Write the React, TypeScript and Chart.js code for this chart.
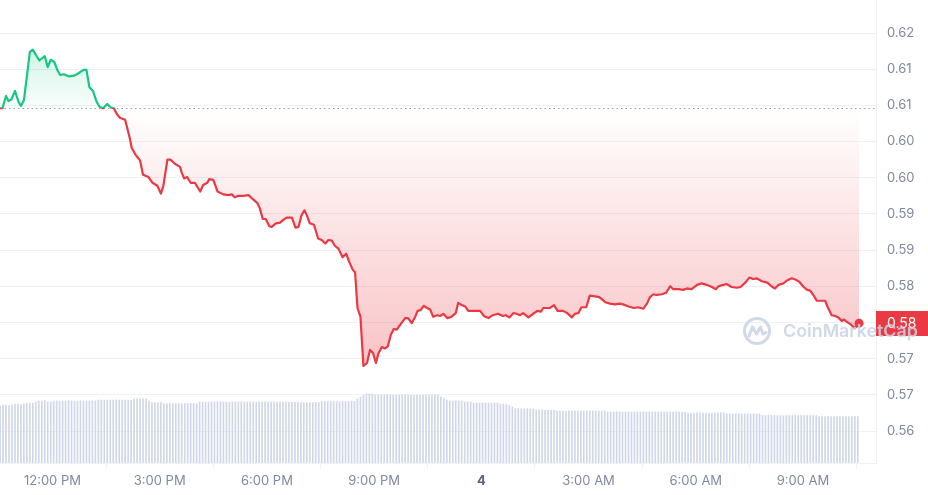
import React, { useEffect, useRef } from "react";
import { Chart, registerables } from "chart.js";

Chart.register(...registerables);

// ---- data ----
// minutes after 12:00 PM (3rd) for each price sample
const priceMinutes = [
  -88, -84, -78, -74, -69, -63, -57, -53, -48, -43,
  -38, -33, -28, -22, -13, -8, -3, 3, 8, 13,
  19, 28, 36, 43, 52, 57, 62, 68, 74, 79,
  85, 92, 98, 103, 108, 113, 122, 130, 133, 140,
  147, 152, 161, 168, 176, 182, 186, 193, 198, 206,
  214, 217, 221, 226, 232, 239, 248, 253, 260, 263,
  270, 277, 287, 295, 301, 306, 312, 320, 329, 337,
  344, 348, 353, 358, 364, 368, 375, 382, 388, 393,
  402, 408, 413, 418, 423, 427, 432, 439, 446, 452,
  458, 463, 469, 474, 480, 487, 493, 498, 504, 508,
  512, 517, 522, 528, 533, 538, 543, 547, 553, 558,
  563, 568, 573, 578, 583, 592, 597, 603, 609, 613,
  618, 623, 629, 634, 639, 646, 651, 656, 663, 670,
  677, 681, 687, 693, 698, 707, 718, 724, 732, 739,
  748, 756, 761, 767, 774, 779, 785, 790, 799, 807,
  814, 820, 824, 835, 842, 848, 857, 864, 872, 877,
  883, 888, 896, 902, 911, 918, 928, 936, 944, 953,
  958, 967, 976, 983, 992, 998, 1003, 1009, 1014, 1023,
  1030, 1037, 1042, 1051, 1059, 1065, 1073, 1082, 1090, 1098,
  1107, 1114, 1118, 1126, 1132, 1140, 1149, 1155, 1163, 1170,
  1176, 1182, 1191, 1200, 1207, 1213, 1219, 1227, 1233, 1241,
  1248, 1254, 1261, 1267, 1272, 1278, 1283, 1291, 1297, 1301,
  1308, 1314, 1319, 1325, 1329, 1333, 1339, 1347, 1354,
];

const prices = [
  0.6096, 0.6096, 0.6113, 0.6106, 0.6108, 0.612, 0.6105, 0.6099, 0.6107, 0.614,
  0.6174, 0.6177, 0.617, 0.6162, 0.6168, 0.6153, 0.6163, 0.616, 0.6149, 0.6142,
  0.6143, 0.614, 0.6141, 0.6144, 0.6149, 0.6149, 0.6125, 0.612, 0.6105, 0.6098,
  0.6096, 0.6102, 0.6097, 0.6096, 0.6088, 0.6083, 0.608, 0.6054, 0.6041, 0.6031,
  0.6024, 0.6004, 0.6001, 0.5993, 0.5989, 0.5978, 0.5988, 0.6025, 0.6025, 0.6019,
  0.6015, 0.6007, 0.5999, 0.6001, 0.5993, 0.5993, 0.5981, 0.599, 0.5993, 0.5998,
  0.5997, 0.5981, 0.5977, 0.5976, 0.5977, 0.5973, 0.5975, 0.5975, 0.5976, 0.597,
  0.5965, 0.5958, 0.5943, 0.5943, 0.5933, 0.5932, 0.5937, 0.5938, 0.5942, 0.5945,
  0.5945, 0.5931, 0.5932, 0.5948, 0.5955, 0.5948, 0.5937, 0.5935, 0.5916, 0.5914,
  0.5909, 0.5914, 0.5913, 0.5906, 0.5902, 0.589, 0.5895, 0.5884, 0.5873, 0.5869,
  0.582, 0.5808, 0.574, 0.5744, 0.5762, 0.5758, 0.5744, 0.5757, 0.5766, 0.5764,
  0.5767, 0.5783, 0.5791, 0.579, 0.5796, 0.5806, 0.5806, 0.5799, 0.5808, 0.5816,
  0.5817, 0.5823, 0.582, 0.5818, 0.5808, 0.581, 0.5809, 0.5812, 0.5806, 0.5808,
  0.5813, 0.5827, 0.5824, 0.5822, 0.5816, 0.5816, 0.5816, 0.5809, 0.5806, 0.581,
  0.5812, 0.5809, 0.581, 0.5807, 0.5813, 0.5812, 0.581, 0.5813, 0.5807, 0.5812,
  0.5816, 0.5815, 0.582, 0.582, 0.5824, 0.5816, 0.5816, 0.5813, 0.5807, 0.5812,
  0.5813, 0.5821, 0.5821, 0.5837, 0.5836, 0.5835, 0.5828, 0.5826, 0.5825, 0.5826,
  0.5825, 0.5822, 0.582, 0.5821, 0.5819, 0.5826, 0.5835, 0.5839, 0.5838, 0.5839,
  0.5841, 0.585, 0.5846, 0.5846, 0.5845, 0.5847, 0.5846, 0.5852, 0.5854, 0.5852,
  0.5849, 0.5846, 0.585, 0.5852, 0.5853, 0.5849, 0.5848, 0.5849, 0.5855, 0.5862,
  0.586, 0.5861, 0.5857, 0.5855, 0.585, 0.5847, 0.5852, 0.5854, 0.5858, 0.5861,
  0.5859, 0.5856, 0.5849, 0.5845, 0.5844, 0.5837, 0.583, 0.583, 0.583, 0.5822,
  0.581, 0.5809, 0.5807, 0.5802, 0.5804, 0.5801, 0.5798, 0.5792, 0.5799,
];

// 5-minute volume bars (millions), first bar at 10:32 AM
const volumeStartMinute = -88;
const volumeStepMinutes = 5;
const volumes = [
  5.7, 5.8, 5.8, 5.75, 5.8, 5.9, 5.9, 5.85, 5.9, 6.0,
  6.0, 5.98, 6.1, 6.2, 6.2, 6.25, 6.1, 6.1, 6.2, 6.2,
  6.18, 6.2, 6.2, 6.22, 6.2, 6.2, 6.18, 6.2, 6.2, 6.2,
  6.2, 6.22, 6.2, 6.3, 6.3, 6.28, 6.3, 6.3, 6.3, 6.32,
  6.3, 6.3, 6.28, 6.3, 6.3, 6.4, 6.42, 6.4, 6.4, 6.42,
  6.2, 6.05, 6.05, 6.03, 6.05, 5.95, 5.95, 5.97, 5.95, 5.95,
  5.95, 5.93, 5.95, 5.95, 5.97, 5.95, 5.95, 6.1, 6.1, 6.08,
  6.1, 6.1, 6.1, 6.12, 6.1, 6.1, 6.1, 6.08, 6.1, 6.1,
  6.1, 6.12, 6.1, 6.1, 6.1, 6.1, 6.08, 6.1, 6.1, 6.12,
  6.1, 6.1, 6.1, 6.1, 6.08, 6.1, 6.12, 6.1, 6.1, 6.1,
  6.1, 6.05, 6.05, 6.03, 6.05, 6.05, 6.07, 6.05, 6.15, 6.15,
  6.15, 6.17, 6.15, 6.15, 6.13, 6.15, 6.15, 6.15, 6.17, 6.15,
  6.4, 6.6, 6.75, 6.9, 6.92, 6.9, 6.8, 6.8, 6.82, 6.8,
  6.8, 6.8, 6.78, 6.8, 6.8, 6.82, 6.8, 6.8, 6.8, 6.8,
  6.78, 6.8, 6.8, 6.82, 6.8, 6.8, 6.8, 6.8, 6.6, 6.45,
  6.3, 6.2, 6.2, 6.22, 6.2, 6.2, 6.1, 6.1, 6.12, 6.0,
  6.0, 6.0, 6.02, 6.0, 6.0, 5.98, 6.0, 6.0, 5.9, 5.9,
  5.85, 5.75, 5.6, 5.45, 5.45, 5.4, 5.4, 5.42, 5.4, 5.4,
  5.3, 5.3, 5.32, 5.3, 5.3, 5.3, 5.28, 5.2, 5.2, 5.2,
  5.2, 5.22, 5.2, 5.2, 5.2, 5.18, 5.2, 5.2, 5.2, 5.22,
  5.2, 5.2, 5.2, 5.2, 5.1, 5.1, 5.1, 5.12, 5.1, 5.1,
  5.1, 5.1, 5.08, 5.1, 5.1, 5.1, 5.12, 5.1, 5.1, 5.1,
  5.1, 5.1, 5.1, 5.08, 5.1, 5.1, 5.1, 5.12, 5.1, 5.1,
  5.1, 5.0, 5.0, 5.0, 5.02, 5.0, 5.0, 5.0, 4.98, 5.0,
  5.0, 5.0, 5.02, 5.0, 4.9, 4.9, 4.9, 4.92, 4.9, 4.9,
  4.9, 4.9, 4.88, 4.9, 4.9, 4.9, 4.75, 4.75, 4.77, 4.75,
  4.75, 4.75, 4.75, 4.73, 4.75, 4.75, 4.75, 4.77, 4.75, 4.75,
  4.75, 4.75, 4.75, 4.73, 4.75, 4.65, 4.65, 4.65, 4.67, 4.65,
  4.65, 4.65, 4.63, 4.65, 4.65, 4.65, 4.65, 4.67, 4.65,
];

const xTickMinutes = [0, 180, 360, 540, 720, 900, 1080, 1260];
const xTickLabels = ["12:00 PM", "3:00 PM", "6:00 PM", "9:00 PM", "4", "3:00 AM", "6:00 AM", "9:00 AM"];

const yTickValues = [0.565, 0.57, 0.575, 0.58, 0.585, 0.59, 0.595, 0.6, 0.605, 0.61, 0.615, 0.62];
const yTickLabels = ["0.56", "0.57", "0.57", "0.58", "0.58", "0.59", "0.59", "0.60", "0.60", "0.61", "0.61", "0.62"];

const GREEN = "#16c784";
const RED = "#ea3943";
const GRID = "#eff1f5";
const LABEL = "#808a9d";

const zeroPadding = (s: any) => {
  s.paddingTop = 0;
  s.paddingBottom = 0;
  s.paddingLeft = 0;
  s.paddingRight = 0;
};

export default function App() {
  const ref = useRef<HTMLCanvasElement>(null);

  useEffect(() => {
    const canvas = ref.current;
    if (!canvas) return;
    const baseline = prices[0];
    const lastPrice = prices[prices.length - 1];

    const priceData = priceMinutes.map((m, i) => ({ x: m, y: prices[i] }));
    const volumeData = volumes.map((v, i) => ({ x: volumeStartMinute + i * volumeStepMinutes, y: v }));

    const overlay = {
      id: "overlay",
      beforeDatasetsDraw(chart: any) {
        const { ctx, chartArea } = chart;
        const y = chart.scales.y.getPixelForValue(baseline);
        ctx.save();
        ctx.strokeStyle = "#9aa1ae";
        ctx.lineWidth = 1;
        ctx.setLineDash([1.5, 3]);
        ctx.beginPath();
        ctx.moveTo(chartArea.left, Math.round(y) + 0.5);
        ctx.lineTo(chartArea.right, Math.round(y) + 0.5);
        ctx.stroke();
        ctx.restore();
      },
      afterDraw(chart: any) {
        const { ctx, chartArea } = chart;
        const ys = chart.scales.y;
        const py = ys.getPixelForValue(lastPrice);
        ctx.save();
        // price tag
        ctx.fillStyle = RED;
        ctx.fillRect(chartArea.right, Math.round(py - 12.5), 928 - chartArea.right, 25);
        ctx.fillStyle = "#ffffff";
        ctx.font = '14px Inter, "Noto Sans", sans-serif';
        ctx.textAlign = "left";
        ctx.textBaseline = "middle";
        ctx.fillText(lastPrice.toFixed(2), chartArea.right + 11, py + 0.5);

        // watermark
        const wmColor = "rgba(200,210,228,0.85)";
        const cx = 757;
        const cy = 331;
        ctx.strokeStyle = wmColor;
        ctx.lineWidth = 3;
        ctx.lineCap = "round";
        ctx.lineJoin = "round";
        ctx.beginPath();
        ctx.arc(cx, cy, 12.5, 0, Math.PI * 2);
        ctx.stroke();
        ctx.beginPath();
        ctx.moveTo(cx - 8, cy + 5);
        ctx.lineTo(cx - 4.5, cy - 4);
        ctx.lineTo(cx - 0.5, cy + 3);
        ctx.lineTo(cx + 3.5, cy - 4);
        ctx.lineTo(cx + 6, cy + 3);
        ctx.lineTo(cx + 9, cy + 1.5);
        ctx.stroke();
        let size = 18;
        ctx.font = `600 ${size}px Inter, "Noto Sans", sans-serif`;
        const w = ctx.measureText("CoinMarketCap").width;
        size = (size * 135) / w;
        ctx.font = `600 ${size}px Inter, "Noto Sans", sans-serif`;
        ctx.fillStyle = wmColor;
        ctx.textBaseline = "middle";
        ctx.fillText("CoinMarketCap", 783, cy + 1);
        ctx.restore();
      },
    };

    const chart: any = new Chart(canvas, {
      type: "line",
      data: {
        datasets: [
          {
            type: "line",
            data: priceData,
            yAxisID: "y",
            borderColor: RED,
            borderWidth: 2.2,
            borderJoinStyle: "round",
            tension: 0,
            pointRadius: (c: any) => (c.dataIndex === prices.length - 1 ? 4.5 : 0),
            pointBackgroundColor: RED,
            pointBorderWidth: 0,
            pointHoverRadius: 0,
            fill: { target: { value: baseline }, above: "rgba(22,199,132,0.1)", below: "rgba(234,57,67,0.1)" },
            order: 0,
          } as any,
          {
            type: "bar",
            data: volumeData,
            yAxisID: "yVol",
            backgroundColor: "#cfd7e6",
            barThickness: 1,
            order: 1,
          } as any,
        ],
      },
      options: {
        animation: false,
        responsive: false,
        devicePixelRatio: 1,
        layout: { padding: 0, autoPadding: false },
        plugins: { legend: { display: false }, tooltip: { enabled: false } },
        scales: {
          x: {
            type: "linear",
            min: -88.1,
            max: 1382.5,
            offset: false,
            afterBuildTicks: (s: any) => {
              s.ticks = xTickMinutes.map((v) => ({ value: v }));
            },
            afterFit: (s: any) => {
              s.height = 32;
              zeroPadding(s);
            },
            grid: { drawOnChartArea: false, drawTicks: true, tickLength: 6, color: GRID },
            border: { display: true, color: GRID },
            ticks: {
              autoSkip: false,
              maxRotation: 0,
              padding: 4,
              callback: (_v: any, i: number) => xTickLabels[i],
              color: (c: any) => (xTickLabels[c.index] === "4" ? "#58667e" : LABEL),
              font: (c: any) => ({
                family: 'Inter, "Noto Sans", sans-serif',
                size: 13,
                weight: xTickLabels[c.index] === "4" ? "bold" : "normal",
              }),
            },
          },
          y: {
            type: "linear",
            position: "right",
            min: 0.560578,
            max: 0.624561,
            afterBuildTicks: (s: any) => {
              s.ticks = yTickValues.map((v) => ({ value: v }));
            },
            afterFit: (s: any) => {
              s.width = 52;
              zeroPadding(s);
            },
            grid: { color: GRID, drawTicks: false },
            border: { display: true, color: GRID },
            ticks: {
              padding: 11,
              callback: (_v: any, i: number) => yTickLabels[i],
              color: LABEL,
              font: { family: 'Inter, "Noto Sans", sans-serif', size: 13 },
            },
          },
          yVol: {
            type: "linear",
            display: false,
            min: 0,
            max: 46.3,
            afterFit: zeroPadding,
          },
        },
      } as any,
      plugins: [overlay],
    });

    // gradients depend on the laid-out scale
    const area = chart.chartArea;
    const ys = chart.scales.y;
    const ctx = chart.ctx as CanvasRenderingContext2D;
    const baseY = ys.getPixelForValue(baseline);
    const frac = Math.min(1, Math.max(0, (baseY - area.top) / (area.bottom - area.top)));
    const stroke = ctx.createLinearGradient(0, area.top, 0, area.bottom);
    stroke.addColorStop(0, GREEN);
    stroke.addColorStop(frac, GREEN);
    stroke.addColorStop(frac, RED);
    stroke.addColorStop(1, RED);
    const hiY = ys.getPixelForValue(Math.max(...prices));
    const loY = ys.getPixelForValue(Math.min(...prices));
    const gFill = ctx.createLinearGradient(0, hiY, 0, baseY);
    gFill.addColorStop(0, "rgba(22,199,132,0.2)");
    gFill.addColorStop(1, "rgba(22,199,132,0.02)");
    const rFill = ctx.createLinearGradient(0, baseY, 0, loY);
    rFill.addColorStop(0, "rgba(234,57,67,0.0)");
    rFill.addColorStop(1, "rgba(234,57,67,0.3)");
    const ds = chart.data.datasets[0];
    ds.borderColor = stroke;
    ds.fill = { target: { value: baseline }, above: gFill, below: rFill };
    chart.update();

    return () => chart.destroy();
  }, []);

  return (
    <div style={{ position: "fixed", left: 0, top: 0, width: 928, height: 495, background: "#ffffff" }}>
      <canvas ref={ref} width={928} height={495} style={{ display: "block" }} />
    </div>
  );
}
